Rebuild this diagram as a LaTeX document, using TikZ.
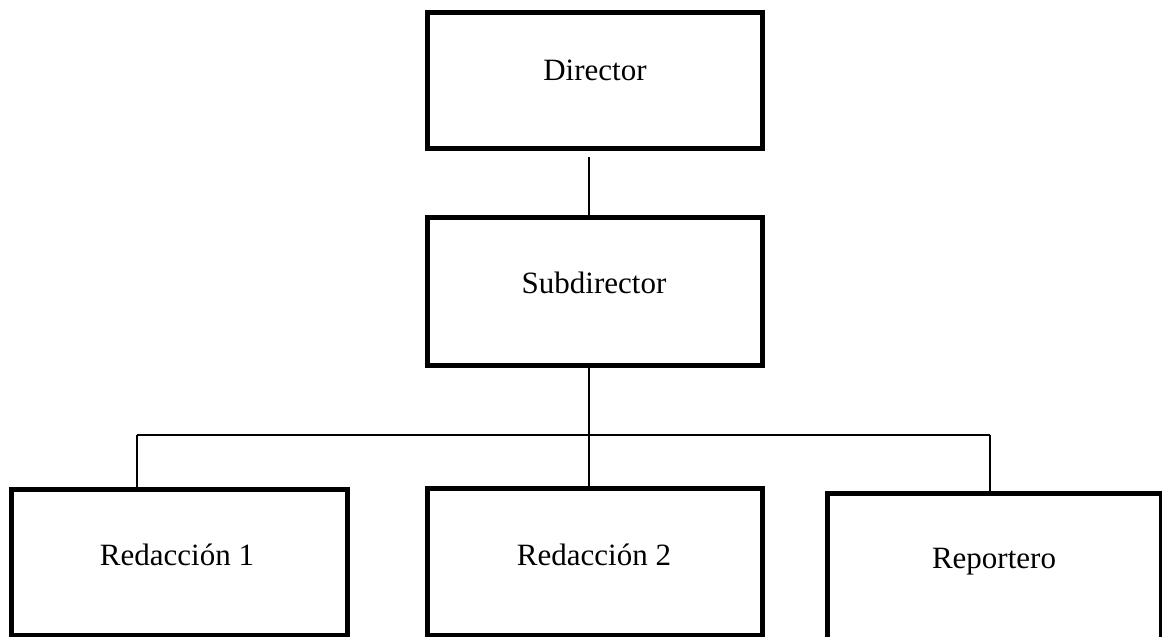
\documentclass[tikz,border=0pt]{standalone}
\usepackage{fontspec}
\setmainfont{Liberation Serif}
\begin{document}
\begin{tikzpicture}[x=1pt,y=-1pt,
  orgbox/.style={draw=black,line width=5pt,rectangle,inner sep=0pt,fill=white},
  orgtext/.style={anchor=base,inner sep=0pt,font=\fontsize{31}{36}\selectfont},
  link/.style={draw=black,line width=1.6pt}]
\useasboundingbox (0,0) rectangle (1162,637);
\clip (0,0) rectangle (1162,637);
\fill[white] (0,0) rectangle (1162,637);
% boxes
\node[orgbox,minimum width=334.5pt,minimum height=135.5pt] (dir) at (594.75,80.25) {};
\node[orgbox,minimum width=334.5pt,minimum height=148pt] (sub) at (594.75,291) {};
\node[orgbox,minimum width=336pt,minimum height=146.5pt] (red1) at (179,562.25) {};
\node[orgbox,minimum width=335.5pt,minimum height=147.5pt] (red2) at (594.75,561.75) {};
\node[orgbox,minimum width=334pt,minimum height=152pt] (rep) at (994,569) {};
% texts
\node[orgtext] (tdir) at (595,80) {Director};
\node[orgtext] (tsub) at (594,293) {Subdirector};
\node[orgtext] (tred1) at (177,565) {Redacción 1};
\node[orgtext] (tred2) at (594,565) {Redacción 2};
\node[orgtext] (trep) at (994,568) {Reportero};
% connectors
\coordinate (c1) at (589,157);
\coordinate (bar) at (589,435);
\coordinate (barL) at (137,435);
\coordinate (barR) at (990,435);
\draw[link] (c1) -- (c1 |- sub.north);
\draw[link] (bar |- sub.south) -- (bar);
\draw[link] (barL) -- (barR);
\draw[link] (barL) -- (barL |- red1.north);
\draw[link] (bar) -- (bar |- red2.north);
\draw[link] (barR) -- (barR |- rep.north);
\end{tikzpicture}
\end{document}
